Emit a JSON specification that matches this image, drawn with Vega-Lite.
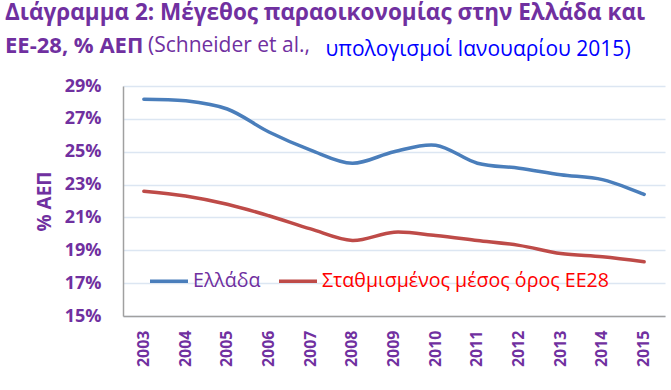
{
  "$schema": "https://vega.github.io/schema/vega-lite/v6.json",
  "width": 542,
  "height": 230,
  "autosize": {"type": "none"},
  "padding": {"left": 123, "top": 86, "right": 6, "bottom": 74},
  "background": "white",
  "title": {
    "text": "Διάγραμμα 2: Μέγεθος παραοικονομίας στην Ελλάδα και",
    "subtitle": "ΕΕ-28, % ΑΕΠ",
    "anchor": "start",
    "frame": "group",
    "dx": -118,
    "dy": 19,
    "offset": 0,
    "font": "Open Sans",
    "fontSize": 22.5,
    "fontWeight": "bold",
    "color": "#7030A0",
    "subtitleFont": "Open Sans",
    "subtitleFontSize": 22,
    "subtitleFontWeight": "bold",
    "subtitleColor": "#7030A0",
    "subtitlePadding": 12
  },
  "data": {
    "values": [
      {"year": "2003", "series": "Ελλάδα", "value": 28.2},
      {"year": "2004", "series": "Ελλάδα", "value": 28.1},
      {"year": "2005", "series": "Ελλάδα", "value": 27.6},
      {"year": "2006", "series": "Ελλάδα", "value": 26.2},
      {"year": "2007", "series": "Ελλάδα", "value": 25.1},
      {"year": "2008", "series": "Ελλάδα", "value": 24.3},
      {"year": "2009", "series": "Ελλάδα", "value": 25.0},
      {"year": "2010", "series": "Ελλάδα", "value": 25.4},
      {"year": "2011", "series": "Ελλάδα", "value": 24.3},
      {"year": "2012", "series": "Ελλάδα", "value": 24.0},
      {"year": "2013", "series": "Ελλάδα", "value": 23.6},
      {"year": "2014", "series": "Ελλάδα", "value": 23.3},
      {"year": "2015", "series": "Ελλάδα", "value": 22.4},
      {"year": "2003", "series": "Σταθμισμένος μέσος όρος ΕΕ28", "value": 22.6},
      {"year": "2004", "series": "Σταθμισμένος μέσος όρος ΕΕ28", "value": 22.3},
      {"year": "2005", "series": "Σταθμισμένος μέσος όρος ΕΕ28", "value": 21.8},
      {"year": "2006", "series": "Σταθμισμένος μέσος όρος ΕΕ28", "value": 21.1},
      {"year": "2007", "series": "Σταθμισμένος μέσος όρος ΕΕ28", "value": 20.3},
      {"year": "2008", "series": "Σταθμισμένος μέσος όρος ΕΕ28", "value": 19.6},
      {"year": "2009", "series": "Σταθμισμένος μέσος όρος ΕΕ28", "value": 20.1},
      {"year": "2010", "series": "Σταθμισμένος μέσος όρος ΕΕ28", "value": 19.9},
      {"year": "2011", "series": "Σταθμισμένος μέσος όρος ΕΕ28", "value": 19.6},
      {"year": "2012", "series": "Σταθμισμένος μέσος όρος ΕΕ28", "value": 19.3},
      {"year": "2013", "series": "Σταθμισμένος μέσος όρος ΕΕ28", "value": 18.8},
      {"year": "2014", "series": "Σταθμισμένος μέσος όρος ΕΕ28", "value": 18.6},
      {"year": "2015", "series": "Σταθμισμένος μέσος όρος ΕΕ28", "value": 18.3}
    ]
  },
  "mark": {"type": "line", "interpolate": "catmull-rom", "strokeWidth": 3.5, "strokeCap": "round"},
  "encoding": {
    "x": {
      "field": "year",
      "type": "ordinal",
      "scale": {"type": "band", "paddingInner": 0, "paddingOuter": 0},
      "axis": {
        "title": "υπολογισμοί Ιανουαρίου 2015)",
        "titleX": 202,
        "titleY": -261,
        "titleAlign": "left",
        "titleAnchor": null,
        "titleBaseline": "alphabetic",
        "titleFont": "Open Sans",
        "titleFontSize": 21,
        "titleFontWeight": "normal",
        "titleColor": "#0000FF",
        "labelAngle": 270,
        "labelFont": "Open Sans",
        "labelFontSize": 16,
        "labelFontWeight": "bold",
        "labelColor": "#7030A0",
        "labelPadding": 14,
        "ticks": false,
        "domainColor": "#A0A0A0",
        "domainWidth": 1.5,
        "grid": false
      }
    },
    "y": {
      "field": "value",
      "type": "quantitative",
      "scale": {"domain": [15, 29], "nice": false, "zero": false},
      "axis": {
        "values": [15, 17, 19, 21, 23, 25, 27, 29],
        "labelExpr": "datum.value + '%'",
        "title": "% ΑΕΠ",
        "titleFont": "Open Sans",
        "titleFontSize": 19,
        "titleFontWeight": "bold",
        "titleColor": "#7030A0",
        "titlePadding": 10,
        "labelFont": "Open Sans",
        "labelFontSize": 18,
        "labelFontWeight": "bold",
        "labelColor": "#7030A0",
        "labelPadding": 22,
        "ticks": false,
        "domainColor": "#A0A0A0",
        "domainWidth": 1.5,
        "gridColor": "#DCE6F2",
        "gridWidth": 1.5
      }
    },
    "color": {
      "field": "series",
      "type": "nominal",
      "scale": {"domain": ["Ελλάδα", "Σταθμισμένος μέσος όρος ΕΕ28"], "range": ["#4A7EBB", "#BE4B48"]},
      "legend": {
        "title": "(Schneider et al.,",
        "titleOrient": "top",
        "titleFont": "Open Sans",
        "titleFontSize": 21,
        "titleFontWeight": "normal",
        "titleColor": "#7030A0",
        "titleBaseline": "alphabetic",
        "titlePadding": 187,
        "titleLimit": 300,
        "orient": "bottom-left",
        "direction": "horizontal",
        "offset": 25,
        "padding": 0,
        "symbolType": "stroke",
        "symbolSize": 1444,
        "symbolStrokeWidth": 3.5,
        "labelFont": "Open Sans",
        "labelFontSize": 19.6,
        "labelFontWeight": "normal",
        "labelOffset": 3,
        "columnPadding": 11,
        "labelLimit": 400,
        "encode": {
          "labels": {
            "update": {
              "fill": [
                {"test": "datum.value === 'Ελλάδα'", "value": "#7030A0"},
                {"value": "#FF0000"}
              ]
            }
          }
        }
      }
    }
  },
  "config": {
    "view": {"stroke": null}
  }
}
